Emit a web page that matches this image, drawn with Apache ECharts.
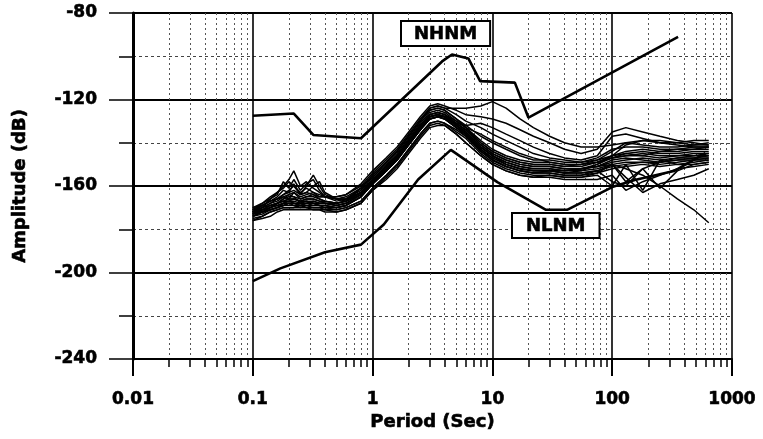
<!DOCTYPE html>
<html>
<head>
<meta charset="utf-8">
<script src="https://cdn.jsdelivr.net/npm/echarts@6/dist/echarts.min.js"></script>
<style>
  html, body { margin: 0; padding: 0; background: #fff; }
  #main { width: 763px; height: 439px; }
</style>
</head>
<body>
<div id="main"></div>
<script>
// x ticks
var minorPeriods = [0.02, 0.03, 0.04, 0.05, 0.06, 0.07, 0.08, 0.09,
  0.2, 0.3, 0.4, 0.5, 0.6, 0.7, 0.8, 0.9,
  2, 3, 4, 5, 6, 7, 8, 9,
  20, 30, 40, 50, 60, 70, 80, 90,
  200, 300, 400, 500, 600, 700, 800, 900];

// noise model curves (velocity dB)
var nhnmPeriod = [0.1, 0.22, 0.32, 0.8, 3.8, 4.6, 6.3, 7.9, 15.4, 20, 354.8];
var nhnmAmp = [-127.5, -126.5, -136.4, -137.9, -102.4, -99.2, -101.0, -111.5, -112.2, -128.4, -91.0];
var nlnmPeriod = [0.1, 0.17, 0.4, 0.8, 1.24, 2.4, 4.5, 11, 28, 42, 100, 154, 328, 600];
var nlnmAmp = [-204.0, -198.1, -190.6, -187.1, -177.8, -157.0, -143.3, -158.2, -171.0, -171.0, -160.5, -157.2, -153.1, -144.8];

// station spectra, all sampled at these periods
var periods = [0.1, 0.12, 0.14, 0.16, 0.18, 0.2, 0.22, 0.25, 0.28, 0.32, 0.36, 0.4, 0.5, 0.6,
  0.8, 1, 1.3, 1.6, 2, 2.5, 3, 3.5, 4, 5, 6,
  8, 10, 13, 17, 22, 30, 40, 55, 75, 100, 130, 180, 250, 350, 480, 640];

var c01 = [-175,-174,-172,-171,-170,-170,-170,-169,-170,-170,-170,-171,-171,-170, -167,-161,-155,-150,-143,-136,-131,-130,-131,-134,-137, -144,-148,-151,-153,-154,-154,-155,-155,-154,-152,-151,-150,-151,-150,-150,-149];
var c02 = [-172,-172,-171,-170,-169,-168,-168,-168,-168,-167,-168,-168,-169,-168, -164,-158,-152,-147,-140,-133,-128,-127,-128,-132,-135, -142,-146,-149,-151,-152,-152,-153,-153,-152,-150,-149,-149,-150,-149,-148,-148];
var c03 = [-171,-168,-165,-163,-160,-157,-153,-160,-158,-161,-163,-165,-167,-166, -162,-156,-150,-145,-138,-131,-126,-125,-126,-130,-133, -140,-144,-147,-149,-150,-150,-151,-150,-149,-147,-146,-146,-147,-146,-146,-145];
var c04 = [-173,-170,-166,-164,-158,-161,-157,-162,-159,-157,-162,-165,-166,-166, -163,-157,-151,-146,-139,-132,-127,-126,-127,-131,-134, -141,-145,-148,-150,-151,-151,-152,-152,-151,-149,-148,-147,-148,-147,-147,-146];
var c05 = [-172,-169,-167,-165,-162,-163,-159,-164,-160,-155,-160,-164,-166,-167, -163,-157,-151,-146,-139,-132,-128,-127,-128,-132,-136, -143,-147,-150,-152,-153,-153,-154,-154,-153,-151,-150,-149,-149,-148,-148,-147];
var c06 = [-170,-168,-166,-163,-161,-158,-160,-163,-161,-163,-164,-165,-165,-164, -159,-153,-147,-142,-135,-128,-123,-122,-123,-125,-127, -128,-129,-131,-134,-137,-140,-143,-145,-143,-135,-133,-135,-137,-139,-140,-141];
var c07 = [-176,-175,-174,-172,-171,-171,-171,-171,-171,-171,-171,-172,-172,-171, -168,-162,-157,-152,-145,-138,-133,-132,-132,-136,-140, -146,-150,-153,-155,-156,-156,-157,-157,-157,-155,-162,-158,-155,-152,-151,-150];
var c08 = [-173,-172,-171,-170,-169,-169,-169,-169,-169,-169,-169,-169,-170,-169, -165,-159,-153,-148,-141,-134,-129,-128,-128,-131,-132, -131,-133,-136,-139,-142,-145,-147,-148,-146,-137,-136,-138,-140,-141,-142,-142];
var c09 = [-171,-170,-168,-167,-165,-166,-163,-166,-165,-164,-166,-167,-168,-167, -161,-155,-149,-144,-137,-130,-124,-123,-124,-124,-124, -123,-121,-124,-129,-133,-137,-140,-142,-142,-141,-140,-139,-140,-140,-139,-139];
var c10 = [-174,-172,-170,-168,-166,-164,-165,-168,-167,-168,-169,-169,-170,-169, -165,-159,-153,-148,-141,-134,-129,-128,-129,-133,-136, -143,-147,-150,-152,-153,-153,-154,-153,-150,-146,-141,-139,-139,-140,-141,-140];
var c11 = [-172,-171,-170,-168,-167,-167,-166,-167,-166,-166,-167,-167,-168,-167, -164,-158,-152,-147,-140,-133,-128,-127,-128,-132,-135, -142,-146,-150,-152,-153,-153,-154,-154,-153,-150,-156,-163,-159,-157,-155,-152];
var c12 = [-173,-171,-170,-169,-168,-168,-168,-169,-168,-169,-169,-169,-170,-169, -165,-159,-153,-148,-141,-134,-129,-128,-129,-133,-136, -143,-148,-151,-153,-154,-153,-153,-152,-151,-150,-152,-155,-160,-166,-171,-177];
var c13 = [-170,-169,-167,-166,-164,-163,-162,-164,-163,-164,-165,-165,-166,-165, -161,-155,-149,-144,-137,-130,-125,-124,-125,-129,-132, -137,-140,-143,-146,-148,-148,-149,-149,-148,-146,-145,-144,-145,-145,-144,-144];
var c14 = [-174,-173,-171,-170,-169,-168,-169,-170,-169,-170,-170,-170,-171,-170, -167,-161,-155,-150,-143,-136,-131,-130,-131,-135,-138, -145,-149,-152,-154,-155,-155,-156,-156,-155,-160,-150,-162,-148,-150,-149,-148];
var c15 = [-172,-170,-169,-168,-167,-166,-166,-167,-166,-166,-167,-168,-168,-167, -163,-157,-151,-146,-139,-132,-127,-126,-127,-131,-134, -141,-145,-148,-150,-151,-151,-152,-152,-150,-147,-145,-146,-144,-143,-143,-142];
var c16 = [-173,-172,-170,-169,-168,-167,-167,-168,-167,-168,-168,-168,-169,-168, -164,-158,-152,-147,-140,-133,-128,-127,-128,-131,-134, -140,-144,-147,-149,-150,-150,-151,-151,-149,-146,-144,-143,-144,-144,-143,-143];
var c17 = [-174,-172,-171,-170,-168,-167,-168,-169,-168,-168,-169,-170,-170,-169, -165,-159,-153,-148,-141,-134,-129,-128,-129,-133,-137, -144,-148,-151,-153,-154,-154,-155,-155,-153,-158,-160,-152,-149,-147,-146,-146];
var c18 = [-172,-170,-168,-166,-164,-162,-160,-164,-163,-160,-158,-163,-166,-166, -161,-155,-149,-144,-137,-130,-125,-124,-125,-129,-133, -136,-139,-142,-145,-147,-149,-150,-150,-148,-144,-140,-141,-142,-142,-141,-141];
var c19 = [-173,-171,-169,-168,-167,-166,-166,-167,-167,-167,-168,-168,-169,-168, -164,-158,-152,-147,-140,-133,-128,-127,-128,-132,-135, -142,-146,-149,-151,-152,-152,-153,-152,-151,-148,-147,-148,-149,-148,-147,-147];
var c20 = [-171,-169,-167,-166,-165,-164,-163,-165,-164,-163,-165,-165,-165,-164, -160,-154,-148,-143,-136,-129,-124,-123,-124,-127,-130, -133,-136,-139,-142,-145,-147,-148,-149,-147,-143,-142,-142,-143,-143,-142,-142];
var c21 = [-176,-174,-172,-171,-170,-170,-170,-170,-170,-171,-171,-171,-172,-171, -168,-162,-156,-151,-144,-137,-132,-131,-132,-136,-140, -146,-150,-153,-155,-156,-155,-156,-156,-154,-150,-158,-152,-161,-153,-150,-149];
var c22 = [-172,-171,-169,-168,-166,-165,-165,-166,-165,-165,-166,-167,-168,-167, -163,-157,-151,-146,-139,-132,-127,-126,-127,-130,-133, -139,-143,-146,-148,-149,-149,-150,-150,-149,-147,-146,-145,-146,-146,-145,-145];

var spectra = [c01, c02, c03, c04, c05, c06, c07, c08, c09, c10, c11,
  c12, c13, c14, c15, c16, c17, c18, c19, c20, c21, c22];

var chartDom = document.getElementById('main');
var myChart = echarts.init(chartDom);
var font = 'DejaVu Sans';

var pair = function (xs, ys) {
  return xs.map(function (x, i) { return [x, ys[i]]; });
};

var series = spectra.map(function (s) {
  return {
    type: 'line', xAxisIndex: 0, data: pair(periods, s),
    showSymbol: false, silent: true,
    lineStyle: { color: '#000', width: 1.5 }
  };
});
series.push({
  type: 'line', data: pair(nhnmPeriod, nhnmAmp), showSymbol: false, silent: true,
  lineStyle: { color: '#000', width: 2.6 }, z: 3
});
series.push({
  type: 'line', data: pair(nlnmPeriod, nlnmAmp), showSymbol: false, silent: true,
  lineStyle: { color: '#000', width: 2.6 }, z: 3
});

var labelStyle = {
  fontFamily: font, fontWeight: 'bold', fontSize: 17, color: '#000',
  textBorderColor: '#000', textBorderWidth: 0.6
};

var option = {
  animation: false,
  backgroundColor: '#fff',
  grid: { left: 133, right: 31, top: 13, bottom: 80 },
  xAxis: [
    {
      type: 'log', logBase: 10, min: 0.01, max: 1000,
      name: 'Period (Sec)', nameLocation: 'middle', nameGap: 54,
      nameTextStyle: { fontFamily: font, fontWeight: 'bold', fontSize: 18, color: '#000', textBorderColor: '#000', textBorderWidth: 0.6 },
      axisLine: { lineStyle: { color: '#000', width: 2 } },
      axisTick: { show: true, length: 17, lineStyle: { color: '#000', width: 2 } },
      axisLabel: Object.assign({ margin: 32, formatter: function (v) { return String(v); } }, labelStyle),
      splitLine: { show: true, lineStyle: { color: '#000', width: 1.6 } }
    },
    {
      type: 'log', logBase: 10, min: 0.01, max: 1000, position: 'bottom',
      axisLine: { show: false },
      axisTick: { show: true, length: 8, customValues: minorPeriods, lineStyle: { color: '#000', width: 1.5 } },
      axisLabel: { show: false },
      splitLine: { show: true, lineStyle: { color: '#555', width: 1, type: [2, 3] } }
    }
  ],
  yAxis: {
    type: 'value', min: -240, max: -80, interval: 40,
    name: 'Amplitude (dB)', nameLocation: 'middle', nameGap: 104,
    nameTextStyle: { fontFamily: font, fontWeight: 'bold', fontSize: 18, color: '#000', textBorderColor: '#000', textBorderWidth: 0.6 },
    axisLine: { show: true, lineStyle: { color: '#000', width: 3 } },
    axisTick: { show: true, length: 24, lineStyle: { color: '#000', width: 1.5 } },
    minorTick: { show: true, splitNumber: 2, length: 14, lineStyle: { color: '#000', width: 1.5 } },
    axisLabel: Object.assign({ margin: 36 }, labelStyle),
    splitLine: { show: true, lineStyle: { color: '#000', width: 1.8 } },
    minorSplitLine: { show: true, lineStyle: { color: '#444', width: 1, type: [3, 3] } }
  },
  graphic: [
    {
      type: 'text', left: 400, top: 20, z: 100,
      style: {
        text: 'NHNM', font: 'bold 18px "DejaVu Sans"', fill: '#000', stroke: '#000', lineWidth: 0.6,
        backgroundColor: '#fff', borderColor: '#000', borderWidth: 2, padding: [3, 12, 2, 12]
      }
    },
    {
      type: 'text', left: 511, top: 212, z: 100,
      style: {
        text: 'NLNM', font: 'bold 18px "DejaVu Sans"', fill: '#000', stroke: '#000', lineWidth: 0.6,
        backgroundColor: '#fff', borderColor: '#000', borderWidth: 2, padding: [3, 13, 2, 13]
      }
    }
  ],
  series: series
};

option && myChart.setOption(option);
</script>
</body>
</html>
